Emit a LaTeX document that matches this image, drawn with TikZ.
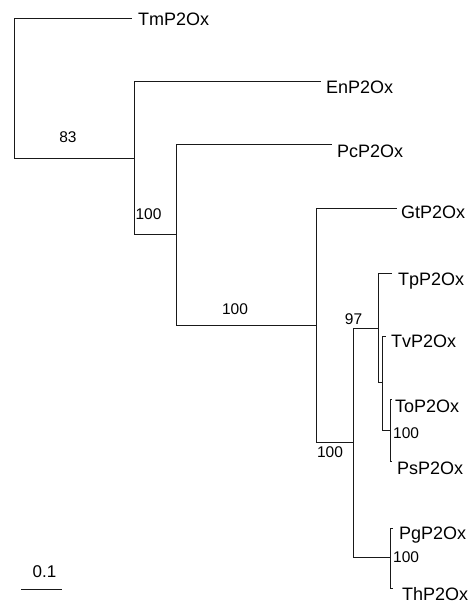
\documentclass[tikz,border=0pt]{standalone}
\usepackage{fontspec}
\setmainfont{Liberation Sans}
\begin{document}
\begin{tikzpicture}[x=1pt,y=-1pt,
  br/.style={draw=black!90,line width=0.75pt},
  tip/.style={anchor=base west,inner sep=0pt,font=\fontsize{18}{20}\selectfont},
  boot/.style={inner sep=0pt,font=\fontsize{15.5}{17}\selectfont},
  scalelbl/.style={inner sep=0pt,font=\fontsize{17}{19}\selectfont}]
\useasboundingbox (0,0) rectangle (472,603);
% internal nodes
\coordinate (n1) at (14,88);
\coordinate (n2) at (134,158);
\coordinate (n3) at (176,234);
\coordinate (n4) at (316,325);
\coordinate (n5) at (353,442);
\coordinate (n6) at (378,328);
\coordinate (n7) at (382,382);
\coordinate (n8) at (390,430);
\coordinate (n9) at (390,557.5);
% tip ends
\coordinate (tTm) at (132,18);
\coordinate (tEn) at (321,81.5);
\coordinate (tPc) at (332,144.5);
\coordinate (tGt) at (397,208);
\coordinate (tTp) at (392,273);
\coordinate (tTv) at (386,336);
\coordinate (tTo) at (392,399);
\coordinate (tPs) at (392,461);
\coordinate (tPg) at (393,528);
\coordinate (tTh) at (393,588);
% tip labels
\node[tip] (lTm) at (138,25.8) {TmP2Ox};
\node[tip] (lEn) at (326,93) {EnP2Ox};
\node[tip] (lPc) at (337,157.5) {PcP2Ox};
\node[tip] (lGt) at (401,218.5) {GtP2Ox};
\node[tip] (lTp) at (398,285.5) {TpP2Ox};
\node[tip] (lTv) at (391,347.5) {TvP2Ox};
\node[tip] (lTo) at (395,412.5) {ToP2Ox};
\node[tip] (lPs) at (397,474.5) {PsP2Ox};
\node[tip] (lPg) at (399,539.5) {PgP2Ox};
\node[tip] (lTh) at (402,600.5) {ThP2Ox};
% branches
\draw[br] (n1) |- (tTm);
\draw[br] (n1) |- (n2);
\draw[br] (n2) |- (tEn);
\draw[br] (n2) |- (n3);
\draw[br] (n3) |- (tPc);
\draw[br] (n3) |- (n4);
\draw[br] (n4) |- (tGt);
\draw[br] (n4) |- (n5);
\draw[br] (n5) |- (n6);
\draw[br] (n5) |- (n9);
\draw[br] (n6) |- (tTp);
\draw[br] (n6) |- (n7);
\draw[br] (n7) |- (tTv);
\draw[br] (n7) |- (n8);
\draw[br] (n8) |- (tTo);
\draw[br] (n8) |- (tPs);
\draw[br] (n9) |- (tPg);
\draw[br] (n9) |- (tTh);
% bootstrap values
\node[boot] (b1) at (68,137) {83};
\node[boot] (b2) at (148.5,214) {100};
\node[boot] (b3) at (235,309) {100};
\node[boot] (b4) at (353.5,319) {97};
\node[boot] (b5) at (330,452) {100};
\node[boot,anchor=west] (b6) at (393,433) {100};
\node[boot,anchor=west] (b7) at (393,557) {100};
% scale bar
\coordinate (s1) at (21,589);
\coordinate (s2) at (62,589);
\draw[br] (s1) -- (s2);
\node[scalelbl] (sl) at (44.5,572) {0.1};
\end{tikzpicture}
\end{document}
